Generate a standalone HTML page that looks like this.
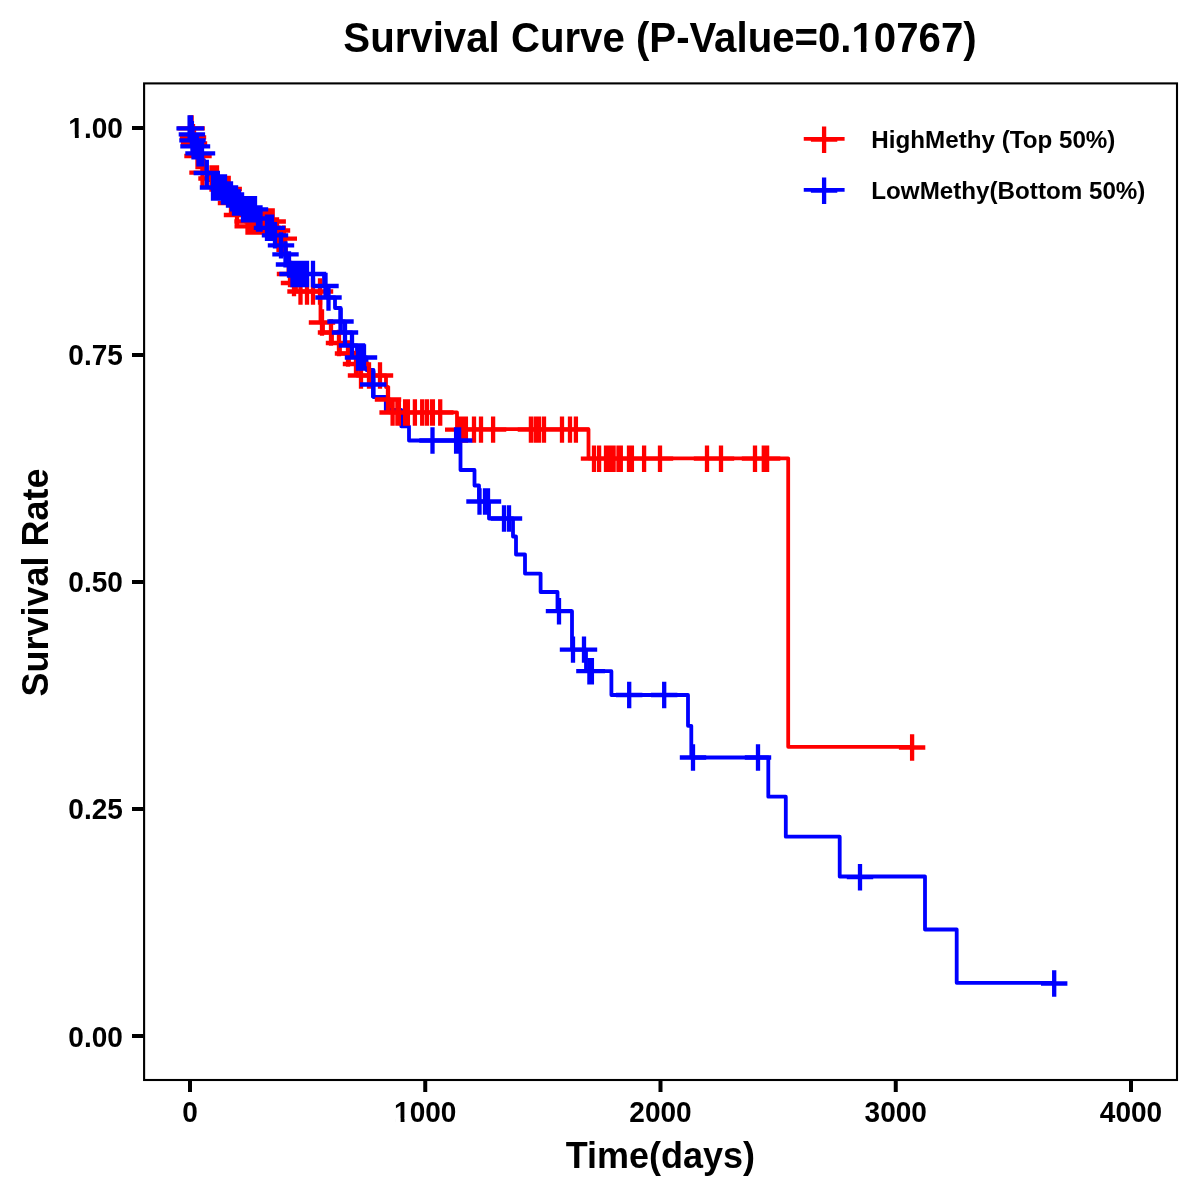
<!DOCTYPE html>
<html><head><meta charset="utf-8"><title>Survival Curve</title>
<style>
html,body{margin:0;padding:0;background:#fff;}
svg{display:block;will-change:transform;}
text{font-family:"Liberation Sans",Arial,Helvetica,sans-serif;font-weight:bold;fill:#000;}
</style></head><body>
<svg width="1200" height="1200" viewBox="0 0 1200 1200">
<rect width="1200" height="1200" fill="#fff"/>
<!--CURVES-->
<g fill="none" stroke-linejoin="round" stroke-linecap="butt">
<path d="M190.3 128.4H192.0V137.3H193.5V143.3H196.0V149.6H201.5V156.0H202.0V162.0H202.3V167.3H202.6V172.7H210.0V178.5H220.0V184.0H229.0V196.0H230.0V203.0H235.0V209.0H236.0V215.0H245.0V221.5H275.0V230.5H277.5V238.7H285.0V247.0H286.0V256.0H287.0V265.0H288.5V274.0H292.0V283.0H296.0V291.5H320.5V322.5H323.0V332.5H332.0V343.0H340.0V353.5H349.0V364.0H357.0V375.5H386.0V387.0H388.0V399.5H390.0V412.4H457.0V429.2H588.5V458.3H788.2V746.8H912" stroke="#f00" stroke-width="3.8"/>
<path d="M190.3 128.4H191.5V134.3H192.3V140.3H193.0V146.3H197.5V153.3H202.5V160.0H204.0V166.5H205.5V173.0H209.0V180.0H212.0V187.5H227.0V194.5H232.0V202.5H240.0V209.3H256.0V218.5H262.0V227.8H273.0V235.3H278.0V245.4H283.0V254.4H287.5V264.5H291.5V274.0H324.0V286.0H327.0V297.5H335.0V308.0H340.7V321.5H344.5V332.5H352.0V345.5H357.0V357.5H366.5V370.0H373.5V397.0H385.8V410.0H401.3V426.3H409.0V440.5H460.5V470.0H474.5V485.5H479.0V501.5H489.0V518.5H513.0V536.5H516.0V554.5H525.0V573.6H540.6V592.0H557.5V611.2H572.0V649.6H586.0V671.2H611.4V695.0H688.0V725.8H691.3V757.5H768.3V796.7H785.8V836.7H839.7V876.5H925.0V929.5H956.7V982.8H1054.2" stroke="#00f" stroke-width="3.8"/>
<path d="M177.4 128.4h26.4M190.6 115.2v26.4M178.4 128.4h26.4M191.6 115.2v26.4M179.8 137.3h26.4M193.0 124.1v26.4M180.8 143.3h26.4M194.0 130.1v26.4M184.3 156.0h26.4M197.5 142.8v26.4M185.3 156.0h26.4M198.5 142.8v26.4M189.3 172.7h26.4M202.5 159.5v26.4M198.3 178.5h26.4M211.5 165.3v26.4M200.8 178.5h26.4M214.0 165.3v26.4M203.8 178.5h26.4M217.0 165.3v26.4M215.5 189.0h26.4M228.7 175.8v26.4M217.8 203.0h26.4M231.0 189.8v26.4M223.8 215.0h26.4M237.0 201.8v26.4M234.3 221.5h26.4M247.5 208.3v26.4M236.8 221.5h26.4M250.0 208.3v26.4M239.8 221.5h26.4M253.0 208.3v26.4M242.8 221.5h26.4M256.0 208.3v26.4M245.8 221.5h26.4M259.0 208.3v26.4M249.8 221.5h26.4M263.0 208.3v26.4M252.8 221.5h26.4M266.0 208.3v26.4M256.3 221.5h26.4M269.5 208.3v26.4M259.5 221.5h26.4M272.7 208.3v26.4M263.8 230.5h26.4M277.0 217.3v26.4M265.3 238.7h26.4M278.5 225.5v26.4M270.6 238.7h26.4M283.8 225.5v26.4M276.8 274.0h26.4M290.0 260.8v26.4M280.8 283.0h26.4M294.0 269.8v26.4M287.3 291.5h26.4M300.5 278.3v26.4M293.8 291.5h26.4M307.0 278.3v26.4M299.8 291.5h26.4M313.0 278.3v26.4M306.8 291.5h26.4M320.0 278.3v26.4M308.8 322.5h26.4M322.0 309.3v26.4M317.8 332.5h26.4M331.0 319.3v26.4M325.8 343.0h26.4M339.0 329.8v26.4M334.8 353.5h26.4M348.0 340.3v26.4M342.8 364.0h26.4M356.0 350.8v26.4M347.8 375.5h26.4M361.0 362.3v26.4M355.8 375.5h26.4M369.0 362.3v26.4M366.8 375.5h26.4M380.0 362.3v26.4M374.8 399.5h26.4M388.0 386.3v26.4M379.4 412.5h26.4M392.6 399.3v26.4M384.2 412.5h26.4M397.4 399.3v26.4M385.7 412.5h26.4M398.9 399.3v26.4M391.9 412.5h26.4M405.1 399.3v26.4M394.7 412.5h26.4M407.9 399.3v26.4M401.7 412.5h26.4M414.9 399.3v26.4M409.1 412.5h26.4M422.2 399.3v26.4M413.8 412.5h26.4M427.0 399.3v26.4M418.9 412.5h26.4M432.1 399.3v26.4M419.7 412.5h26.4M432.9 399.3v26.4M427.1 412.5h26.4M440.2 399.3v26.4M445.0 429.6h26.4M458.2 416.4v26.4M447.7 429.6h26.4M460.9 416.4v26.4M450.2 429.6h26.4M463.4 416.4v26.4M452.7 429.6h26.4M465.9 416.4v26.4M460.8 429.6h26.4M474.0 416.4v26.4M467.8 429.6h26.4M481.0 416.4v26.4M479.9 429.6h26.4M493.1 416.4v26.4M517.7 429.6h26.4M530.9 416.4v26.4M522.4 429.6h26.4M535.6 416.4v26.4M525.8 429.6h26.4M539.0 416.4v26.4M530.8 429.6h26.4M544.0 416.4v26.4M548.8 429.6h26.4M562.0 416.4v26.4M556.8 429.6h26.4M570.0 416.4v26.4M562.7 429.6h26.4M575.9 416.4v26.4M580.8 458.7h26.4M594.0 445.5v26.4M585.9 458.7h26.4M599.1 445.5v26.4M592.8 458.7h26.4M606.0 445.5v26.4M595.5 458.7h26.4M608.7 445.5v26.4M598.2 458.7h26.4M611.4 445.5v26.4M600.4 458.7h26.4M613.6 445.5v26.4M605.3 458.7h26.4M618.5 445.5v26.4M607.6 458.7h26.4M620.8 445.5v26.4M615.8 458.7h26.4M629.0 445.5v26.4M618.7 458.7h26.4M631.9 445.5v26.4M630.9 458.7h26.4M644.1 445.5v26.4M646.8 458.7h26.4M660.0 445.5v26.4M693.8 458.7h26.4M707.0 445.5v26.4M707.8 458.7h26.4M721.0 445.5v26.4M741.8 458.7h26.4M755.0 445.5v26.4M750.5 458.7h26.4M763.8 445.5v26.4M753.9 458.7h26.4M767.1 445.5v26.4M898.9 747.5h26.4M912.1 734.3v26.4M234.5 226.3H249" stroke="#f00" stroke-width="4.3"/>
<path d="M176.4 128.4h26.4M189.6 115.2v26.4M177.1 128.4h26.4M190.3 115.2v26.4M177.8 128.4h26.4M191.0 115.2v26.4M178.7 134.3h26.4M191.9 121.1v26.4M179.3 140.3h26.4M192.5 127.1v26.4M180.3 146.3h26.4M193.5 133.1v26.4M181.8 146.3h26.4M195.0 133.1v26.4M183.8 146.3h26.4M197.0 133.1v26.4M185.3 153.3h26.4M198.5 140.1v26.4M186.8 153.3h26.4M200.0 140.1v26.4M188.8 153.3h26.4M202.0 140.1v26.4M193.6 173.0h26.4M206.8 159.8v26.4M199.8 187.5h26.4M213.0 174.3v26.4M202.8 187.5h26.4M216.0 174.3v26.4M205.8 187.5h26.4M219.0 174.3v26.4M208.8 187.5h26.4M222.0 174.3v26.4M211.8 187.5h26.4M225.0 174.3v26.4M214.8 194.5h26.4M228.0 181.3v26.4M217.8 194.5h26.4M231.0 181.3v26.4M220.8 202.5h26.4M234.0 189.3v26.4M223.8 202.5h26.4M237.0 189.3v26.4M225.8 202.5h26.4M239.0 189.3v26.4M229.8 209.3h26.4M243.0 196.1v26.4M232.3 209.3h26.4M245.5 196.1v26.4M234.8 209.3h26.4M248.0 196.1v26.4M237.3 209.3h26.4M250.5 196.1v26.4M239.8 209.3h26.4M253.0 196.1v26.4M241.8 209.3h26.4M255.0 196.1v26.4M244.8 218.5h26.4M258.0 205.3v26.4M247.3 218.5h26.4M260.5 205.3v26.4M253.8 227.8h26.4M267.0 214.6v26.4M256.8 227.8h26.4M270.0 214.6v26.4M258.8 227.8h26.4M272.0 214.6v26.4M261.8 235.3h26.4M275.0 222.1v26.4M267.8 245.4h26.4M281.0 232.2v26.4M272.3 254.4h26.4M285.5 241.2v26.4M275.8 264.5h26.4M289.0 251.3v26.4M279.3 274.0h26.4M292.5 260.8v26.4M281.8 274.0h26.4M295.0 260.8v26.4M283.8 274.0h26.4M297.0 260.8v26.4M285.8 274.0h26.4M299.0 260.8v26.4M287.8 274.0h26.4M301.0 260.8v26.4M289.8 274.0h26.4M303.0 260.8v26.4M291.8 274.0h26.4M305.0 260.8v26.4M293.8 274.0h26.4M307.0 260.8v26.4M299.8 274.0h26.4M313.0 260.8v26.4M312.3 286.0h26.4M325.5 272.8v26.4M315.3 297.5h26.4M328.5 284.3v26.4M327.3 321.5h26.4M340.5 308.3v26.4M331.8 332.5h26.4M345.0 319.3v26.4M338.8 345.5h26.4M352.0 332.3v26.4M344.8 357.5h26.4M358.0 344.3v26.4M347.8 357.5h26.4M361.0 344.3v26.4M350.8 357.5h26.4M364.0 344.3v26.4M360.0 384.5h26.4M373.2 371.3v26.4M419.3 440.5h26.4M432.5 427.3v26.4M442.9 440.5h26.4M456.1 427.3v26.4M445.9 440.5h26.4M459.1 427.3v26.4M466.3 501.5h26.4M479.5 488.3v26.4M471.8 501.5h26.4M485.0 488.3v26.4M474.8 501.5h26.4M488.0 488.3v26.4M490.8 518.5h26.4M504.0 505.3v26.4M495.8 518.5h26.4M509.0 505.3v26.4M545.8 611.2h26.4M559.0 598.0v26.4M559.8 649.6h26.4M573.0 636.4v26.4M570.8 649.6h26.4M584.0 636.4v26.4M576.2 671.2h26.4M589.4 658.0v26.4M578.7 671.2h26.4M591.9 658.0v26.4M616.0 695.0h26.4M629.2 681.8v26.4M651.0 695.0h26.4M664.2 681.8v26.4M679.8 757.5h26.4M693.0 744.3v26.4M744.8 757.5h26.4M758.0 744.3v26.4M846.8 877.2h26.4M860.0 864.0v26.4M1041.0 983.5h26.4M1054.2 970.3v26.4" stroke="#00f" stroke-width="4.3"/>
</g>
<!--/CURVES-->
<!-- panel border -->
<rect id="panel" x="144.1" y="83.4" width="1032.9" height="996.6" fill="none" stroke="#000" stroke-width="2.1"/>
<!-- ticks -->
<g stroke="#000" stroke-width="4" fill="none">
<path d="M132 127.9H143.5M132 354.9H143.5M132 581.9H143.5M132 808.9H143.5M132 1035.9H143.5"/>
<path d="M190 1080.5V1092M425.25 1080.5V1092M660.5 1080.5V1092M895.75 1080.5V1092M1131 1080.5V1092"/>
</g>
<g font-size="28" text-anchor="end">
<text id="y100" transform="translate(122.85,138.4) scale(1,1.06)">1.00</text>
<text transform="translate(122.85,365.4) scale(1,1.06)">0.75</text>
<text transform="translate(122.85,592.4) scale(1,1.06)">0.50</text>
<text transform="translate(122.85,819.4) scale(1,1.06)">0.25</text>
<text id="y000" transform="translate(122.85,1047.4) scale(1,1.06)">0.00</text>
</g>
<g font-size="28" text-anchor="middle">
<text id="x0" transform="translate(190,1122.4) scale(1,1.06)">0</text>
<text transform="translate(425.25,1122.4) scale(1,1.06)">1000</text>
<text id="x2000" transform="translate(660.5,1122.4) scale(1,1.06)">2000</text>
<text transform="translate(895.75,1122.4) scale(1,1.06)">3000</text>
<text id="x4000" transform="translate(1131,1122.4) scale(1,1.06)">4000</text>
</g>
<text id="title" transform="translate(660,51.5) scale(1,1.04)" font-size="40.2" text-anchor="middle">Survival Curve (P-Value=0.10767)</text>
<text id="xlab" transform="translate(660.3,1168) scale(1,1.03)" font-size="36" text-anchor="middle">Time(days)</text>
<text id="ylab" transform="translate(47.8,582.5) rotate(-90) scale(1,1.03)" font-size="36" text-anchor="middle">Survival Rate</text>
<!-- legend -->
<g fill="none">
<path d="M803.75 138.8H844.6" stroke="#f00" stroke-width="3.8"/>
<path d="M810.9 139.7h26.4M824.1 126.5v26.4" stroke="#f00" stroke-width="4.3"/>
<path d="M803.75 189.8H844.6" stroke="#00f" stroke-width="3.8"/>
<path d="M810.9 190.7h26.4M824.1 177.5v26.4" stroke="#00f" stroke-width="4.3"/>
</g>
<text id="leg1" x="871.3" y="148" font-size="24.2">HighMethy (Top 50%)</text>
<text id="leg2" x="871.3" y="199" font-size="24.2">LowMethy(Bottom 50%)</text>
<g id="mask1" fill="#fff"><rect x="69.33" y="134.63" width="5.57" height="4.72"/><rect x="78.74" y="134.63" width="5.22" height="4.72"/><rect x="395.08" y="1118.63" width="5.57" height="4.72"/><rect x="404.49" y="1118.63" width="5.22" height="4.72"/><rect x="853.24" y="46.51" width="7.65" height="5.93"/><rect x="866.41" y="46.51" width="7.14" height="5.93"/></g>
</svg>
</body></html>
